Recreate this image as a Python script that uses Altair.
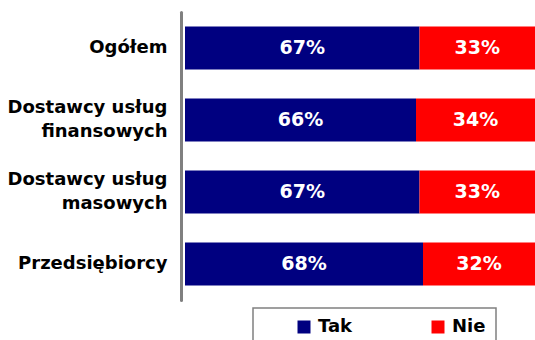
import altair as alt
import pandas as pd

categories = ["Ogółem", "Dostawcy usług|finansowych", "Dostawcy usług|masowych", "Przedsiębiorcy"]
tak = [67, 66, 67, 68]
nie = [33, 34, 33, 32]
series = ["Tak", "Nie"]
colors = ["#000080", "#FF0000"]

rows = []
for c, t, n in zip(categories, tak, nie):
    rows.append({"cat": c, "ans": series[0], "val": t, "ord": 0})
    rows.append({"cat": c, "ans": series[1], "val": n, "ord": 1})
df = pd.DataFrame(rows)

FONT = "DejaVu Sans"
NBSP = "\u00a0"

base = alt.Chart(df).transform_window(
    cum="sum(val)", groupby=["cat"], sort=[alt.SortField("ord")], frame=[None, 0]
).transform_joinaggregate(
    total="sum(val)", groupby=["cat"]
).transform_calculate(
    x0="(datum.cum - datum.val) / datum.total",
    x1="datum.cum / datum.total",
    mid="(datum.cum - datum.val / 2) / datum.total",
    lbl="datum.val + '%'",
)

xscale = alt.Scale(domain=[0, 1], nice=False, zero=False)
yenc = alt.Y(
    "cat:N",
    sort=categories,
    scale=alt.Scale(paddingInner=0.4, paddingOuter=0.2),
    axis=alt.Axis(
        title=None,
        labelExpr="split(datum.label, '|')",
        domainColor="#808080",
        domainWidth=3,
        domainCap="round",
        ticks=False,
        tickSize=0,
        offset=4,
        labelFont=FONT,
        labelFontWeight="bold",
        labelFontSize=18,
        labelColor="black",
        labelPadding=14,
        labelLineHeight=24,
        labelAlign="right",
        labelBaseline="middle",
        labelLimit=300,
        labelOffset={"condition": {"test": "indexof(datum.value, '|') >= 0", "value": -12}, "value": 0},
    ),
)

bars = base.mark_bar().encode(
    x=alt.X("x0:Q", scale=xscale, axis=None),
    x2="x1:Q",
    y=yenc,
    color=alt.Color(
        "ans:N",
        sort=series,
        scale=alt.Scale(domain=series, range=colors),
        legend=alt.Legend(
            title=None,
            orient="none",
            legendX=68,
            legendY=296,
            direction="horizontal",
            strokeColor="#808080",
            padding=10,
            symbolType="square",
            symbolSize=169,
            symbolStrokeWidth=0,
            symbolOffset=32,
            labelOffset=5,
            labelFont=FONT,
            labelFontSize=18,
            labelFontWeight="bold",
            labelColor="black",
            labelExpr="datum.label == 'Nie' ? 'Nie" + NBSP * 3 + "' : datum.label",
            columnPadding=44,
        ),
    ),
)

text = base.mark_text(color="white", fontWeight="bold", fontSize=19, font=FONT).encode(
    x=alt.X("mid:Q", scale=xscale, axis=None),
    y=alt.Y("cat:N", sort=categories),
    text="lbl:N",
)

chart = alt.layer(bars, text).properties(
    width=350,
    height=288,
    autosize=alt.AutoSizeParams(type="none"),
    padding={"left": 185, "top": 12, "right": 0, "bottom": 40},
).configure_view(stroke=None).configure_legend(strokeWidth=1.5)

chart.save("out.html", embed_options={"renderer": "svg", "actions": False})
